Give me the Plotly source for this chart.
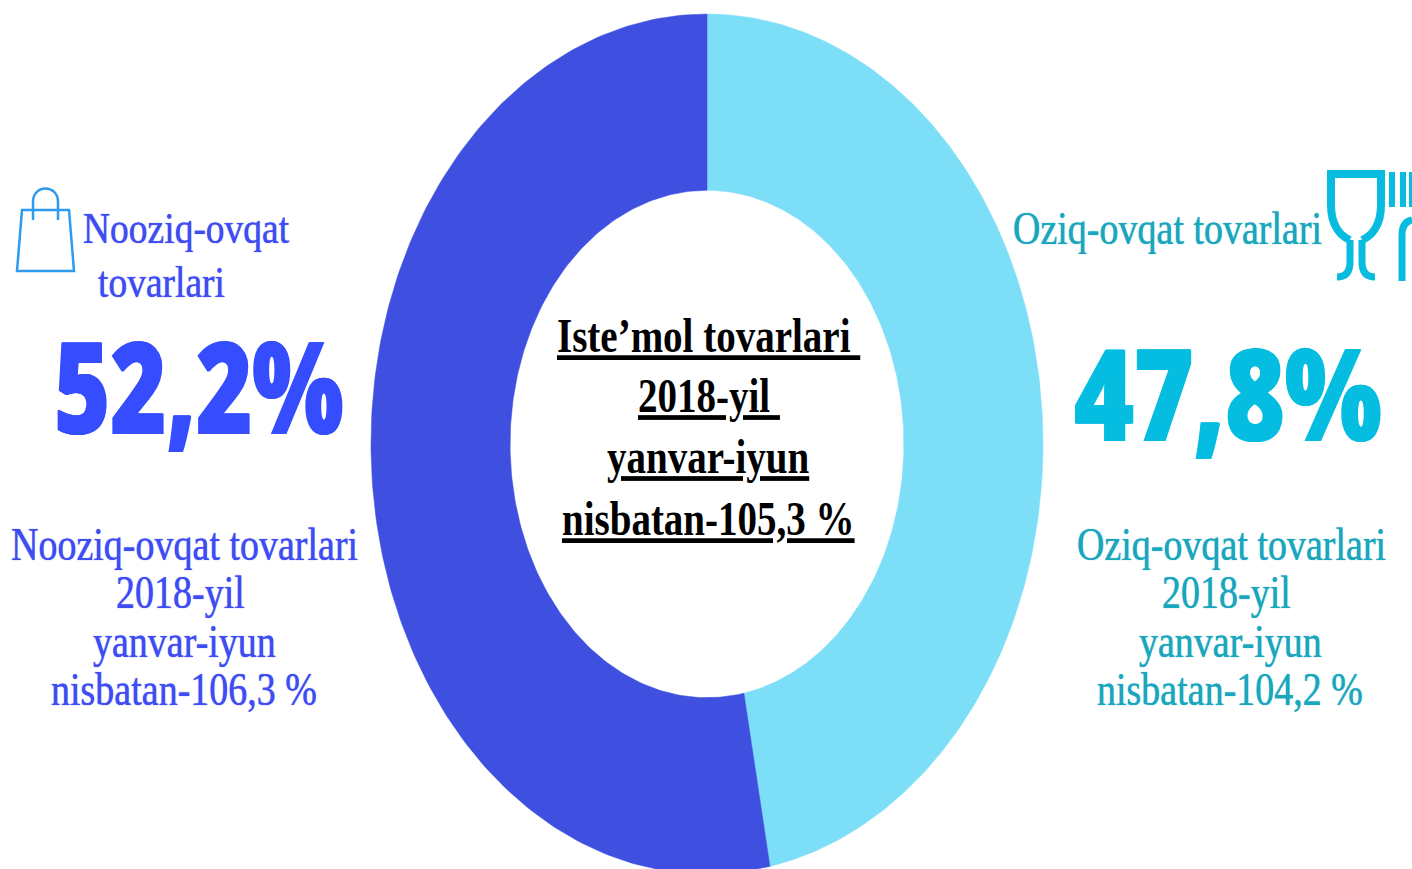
import numpy as np
import plotly.graph_objects as go

W, H = 1412, 869

slice_names = ["Oziq-ovqat tovarlari", "Nooziq-ovqat tovarlari"]
slice_values = [47.0, 53.0]
slice_colors = ["#7DDEF8", "#3F4FDF"]
hole_rx = 0.586
hole_ry = 0.59

left_header = ["Nooziq-ovqat", "tovarlari"]
left_big = "52,2%"
left_lines = ["Nooziq-ovqat tovarlari", "2018-yil", "yanvar-iyun", "nisbatan-106,3 %"]
right_header = ["Oziq-ovqat tovarlari"]
right_big = "47,8%"
right_lines = ["Oziq-ovqat tovarlari", "2018-yil", "yanvar-iyun", "nisbatan-104,2 %"]
center_lines = ["Iste’mol tovarlari\u00a0", "2018-yil\u00a0", "yanvar-iyun", "nisbatan-105,3 %"]

SERIF = "Liberation Serif"
BIG = "Noto Sans"


def px(x):
    return x / W


def py(y):
    return 1 - y / H


def ring(start, end):
    t = np.radians(np.linspace(start, end, 200))
    x = np.concatenate([np.sin(t), hole_rx * np.sin(t[::-1])])
    y = np.concatenate([np.cos(t), hole_ry * np.cos(t[::-1])])
    return np.append(x, x[0]), np.append(y, y[0])


fig = go.Figure()
angle = 0.0
total = sum(slice_values)
for name, val, col in zip(slice_names, slice_values, slice_colors):
    sweep = 360 * val / total
    x, y = ring(angle, angle + sweep)
    fig.add_trace(go.Scatter(x=x, y=y, mode="lines", fill="toself", fillcolor=col,
                             line=dict(color=col, width=0.5), name=name, hoverinfo="name"))
    angle += sweep

stretches = []


def label(text, cx, cy, size, color, family=SERIF, weight="normal", stretch=1.2, shadow=None):
    font = dict(family=family, size=size, color=color, weight=weight)
    if shadow:
        font["shadow"] = shadow
    fig.add_annotation(text=text, x=px(cx), y=py(cy), xref="paper", yref="paper",
                       xanchor="center", yanchor="middle", showarrow=False, font=font)
    stretches.append(stretch)


BLUE_T, CYAN_T = "#3F4CF2", "#1BA6BE"
thick_b = f"0 0 1px {BLUE_T}"
thick_c = f"0 0 1px {CYAN_T}"
BIG_B, BIG_C = "#354DFF", "#05BDE0"
label(left_header[0], 186, 228, 37.5, BLUE_T, shadow=thick_b)
label(left_header[1], 161, 283, 37.5, BLUE_T, shadow=thick_b)
label(left_big, 198, 384, 96, BIG_B, BIG, 900, 1.33, f"1px 0 0 {BIG_B}, -1px 0 0 {BIG_B}")
for t, cx, cy in zip(left_lines, [184, 180, 184, 184], [544, 592, 641, 689]):
    label(t, cx, cy, 38, BLUE_T, shadow=thick_b)

label(right_header[0], 1167, 228, 38, CYAN_T, shadow=thick_c)
label(right_big, 1228, 391, 102, BIG_C, BIG, 900, 1.25, f"1px 0 0 {BIG_C}, -1px 0 0 {BIG_C}")
for t, cx, cy in zip(right_lines, [1231, 1226, 1230, 1230], [544, 592, 641, 689]):
    label(t, cx, cy, 38, CYAN_T, shadow=thick_c)

for t, cx, cy in zip(center_lines, [708, 709, 708, 708], [335, 396, 457, 518]):
    label(f"<u>{t}</u>", cx, cy, 39, "#000000", SERIF, "bold", 1.22)


def path(cmds):
    out = []
    for c in cmds:
        if isinstance(c, str):
            out.append(c)
        else:
            out.append(f"{px(c[0]):.5f},{py(c[1]):.5f}")
    return " ".join(out)


def icon(cmds, color, width):
    fig.add_shape(type="path", path=path(cmds), xref="paper", yref="paper",
                  line=dict(color=color, width=width), layer="above")


BAG, CUP = "#2E9BEF", "#08BCE0"
icon(["M", (22, 210), "L", (69, 210), "L", (74, 271), "L", (17, 271), "Z"], BAG, 2.5)
icon(["M", (33, 220), "L", (33, 202), "C", (33, 184), (58, 184), (58, 202), "L", (58, 220)], BAG, 2.5)
icon(["M", (1350, 240), "C", (1340, 236), (1331, 225), (1331, 205), "L", (1331, 174), "L", (1381, 174),
      "L", (1381, 205), "C", (1381, 225), (1372, 236), (1362, 240)], CUP, 8)
icon(["M", (1350, 240), "L", (1350, 262), "Q", (1350, 277), (1337, 277)], CUP, 7)
icon(["M", (1362, 240), "L", (1362, 262), "Q", (1362, 277), (1375, 277)], CUP, 7)
icon(["M", (1392, 172), "L", (1392, 207)], CUP, 6)
icon(["M", (1403, 172), "L", (1403, 207)], CUP, 6)
icon(["M", (1412, 172), "L", (1412, 207)], CUP, 6)
icon(["M", (1412, 220), "Q", (1402, 222), (1402, 235), "L", (1402, 281)], CUP, 7)

CX, CY, RX, RY = 707, 444, 336, 430
fig.update_layout(
    width=W, height=H, margin=dict(l=0, r=0, t=0, b=0), showlegend=False,
    paper_bgcolor="white", plot_bgcolor="white",
    xaxis=dict(visible=False, range=[-CX / RX, (W - CX) / RX]),
    yaxis=dict(visible=False, range=[-(H - CY) / RY, CY / RY]),
)

post = """
document.body.style.margin='0';
var st=%s;
document.querySelectorAll('text.annotation-text').forEach(function(t,i){
  var b=t.getBBox(), c=b.y+b.height/2;
  t.setAttribute('transform','translate(0 '+c+') scale(1 '+st[i]+') translate(0 '+(-c)+')');
});
""" % (stretches,)
fig.write_html("out.html", post_script=post, config={"displayModeBar": False})
